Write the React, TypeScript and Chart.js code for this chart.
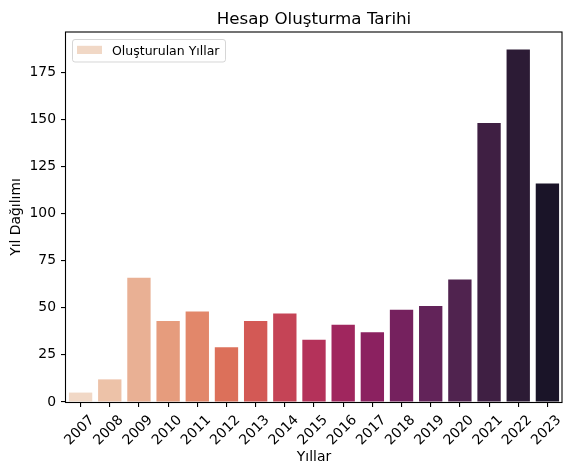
import React, { useEffect, useRef } from "react";
import { Chart, registerables } from "chart.js";

Chart.register(...registerables);

const years = ["2007", "2008", "2009", "2010", "2011", "2012", "2013", "2014", "2015", "2016", "2017", "2018", "2019", "2020", "2021", "2022", "2023"];
const counts = [5, 12, 66, 43, 48, 29, 43, 47, 33, 41, 37, 49, 51, 65, 148, 187, 116];
const barColors = [
  "#f1d8c6", "#edc2a8", "#e9b094", "#e69c7d", "#e2876a", "#dc705a",
  "#d35955", "#c54456", "#b4325a", "#a0265e", "#8b2160", "#75215e",
  "#622359", "#50234f", "#3f1f43", "#2c1b35", "#1a1428",
];
const yTicks = [0, 25, 50, 75, 100, 125, 150, 175];
const yMax = 196.35;
const titleText = "Hesap Oluşturma Tarihi";
const xTitle = "Yıllar";
const yTitle = "Yıl Dağılımı";
const legendLabel = "Oluşturulan Yıllar";

const FONT = '"DejaVu Sans", sans-serif';

const overlay = {
  id: "overlay",
  afterDraw(chart: any) {
    const { ctx, chartArea: a } = chart;
    ctx.save();
    // frame (all four spines)
    ctx.strokeStyle = "#000";
    ctx.lineWidth = 1.1;
    ctx.strokeRect(a.left - 0.5, a.top, a.right - a.left + 0.5, a.bottom - a.top + 0.5);
    // title
    ctx.fillStyle = "#000";
    ctx.font = `16.7px ${FONT}`;
    ctx.textAlign = "center";
    ctx.textBaseline = "alphabetic";
    ctx.fillText(titleText, (a.left + a.right) / 2, 24);
    // legend
    const lx = a.left + 6.5;
    const ly = a.top + 7.5;
    const lw = 153;
    const lh = 22.5;
    ctx.globalAlpha = 0.8;
    ctx.fillStyle = "#fff";
    ctx.strokeStyle = "#cccccc";
    ctx.lineWidth = 1;
    ctx.beginPath();
    (ctx as any).roundRect(lx, ly, lw, lh, 2.5);
    ctx.fill();
    ctx.stroke();
    ctx.globalAlpha = 1;
    ctx.fillStyle = barColors[0];
    ctx.fillRect(lx + 4.5, ly + 6.3, 25, 8.2);
    ctx.fillStyle = "#000";
    ctx.font = `12.5px ${FONT}`;
    ctx.textAlign = "left";
    ctx.fillText(legendLabel, lx + 39.5, ly + 15);
    ctx.restore();
  },
};

export default function App() {
  const ref = useRef<HTMLCanvasElement>(null);
  useEffect(() => {
    if (!ref.current) return;
    const chart = new Chart(ref.current, {
      type: "bar",
      data: {
        labels: years,
        datasets: [
          {
            label: legendLabel,
            data: counts,
            backgroundColor: barColors,
            borderWidth: 0,
            categoryPercentage: 0.8,
            barPercentage: 1,
          },
        ],
      },
      options: {
        responsive: false,
        devicePixelRatio: 1,
        animation: false,
        layout: { padding: { top: 32, right: 12, left: 0, bottom: 0 } },
        plugins: {
          legend: { display: false },
          title: { display: false },
          tooltip: { enabled: false },
        },
        scales: {
          x: {
            type: "category",
            offset: true,
            afterFit: (s: any) => {
              s.height = 74;
            },
            grid: {
              display: true,
              offset: false,
              drawOnChartArea: false,
              drawTicks: true,
              tickLength: 5,
              color: "#000",
              lineWidth: 1.1,
            },
            border: { display: false },
            ticks: {
              autoSkip: false,
              minRotation: 45,
              maxRotation: 45,
              labelOffset: 11.5,
              padding: 5,
              color: "#000",
              font: { family: FONT, size: 13.9 },
            },
            title: {
              display: true,
              text: xTitle,
              color: "#000",
              font: { family: FONT, size: 13.9 },
              padding: { top: 0, bottom: 10 },
            },
          },
          y: {
            min: 0,
            max: yMax,
            afterFit: (s: any) => {
              s.width = 66;
            },
            afterBuildTicks: (s: any) => {
              s.ticks = yTicks.map((v) => ({ value: v }));
            },
            grid: {
              display: true,
              drawOnChartArea: false,
              drawTicks: true,
              tickLength: 5,
              color: "#000",
              lineWidth: 1.1,
            },
            border: { display: false },
            ticks: {
              padding: 5,
              color: "#000",
              font: { family: FONT, size: 13.9 },
            },
            title: {
              display: true,
              text: yTitle,
              color: "#000",
              font: { family: FONT, size: 13.9 },
              padding: { top: 8, bottom: 0 },
            },
          },
        },
      },
      plugins: [overlay],
    });
    return () => chart.destroy();
  }, []);
  return (
    <div style={{ position: "fixed", left: 0, top: 0, width: 574, height: 476, background: "#fff" }}>
      <canvas ref={ref} width={574} height={476} />
    </div>
  );
}
